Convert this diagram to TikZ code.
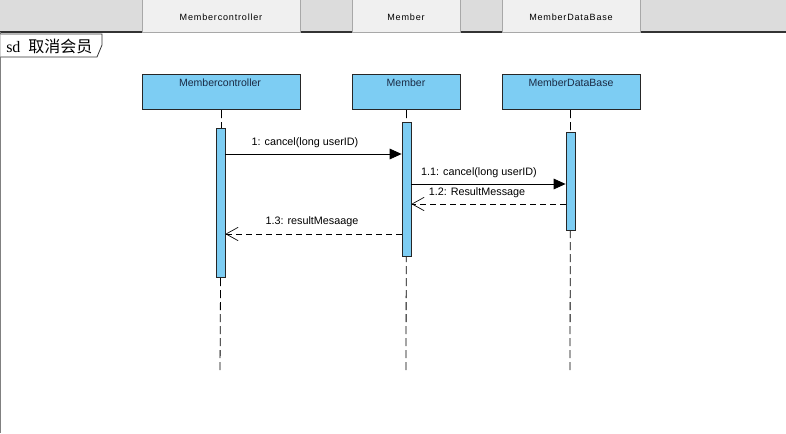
\documentclass[tikz,border=0pt]{standalone}
\usepackage{fontspec}
\setmainfont{Liberation Sans}
\newfontfamily\cjkfont{Noto Sans CJK SC}
\newfontfamily\serfont{Liberation Serif}
\usetikzlibrary{arrows.meta}
\definecolor{bandgray}{HTML}{DCDCDC}
\definecolor{tabgray}{HTML}{F0F0F0}
\definecolor{tabedge}{HTML}{A8A8A8}
\definecolor{lifefill}{HTML}{7DCDF3}
\definecolor{labelnavy}{HTML}{1A2A44}
\newcommand{\tabsp}{\kern0.6pt}
\tikzset{
  px/.style={x=0.75pt,y=-0.75pt},
  tabbox/.style={draw=tabedge,fill=tabgray,line width=0.75pt},
  tablabel/.style={font=\fontsize{6.8}{8}\selectfont,text=black},
  headbox/.style={draw=black!85,fill=lifefill,line width=0.75pt},
  headlabel/.style={font=\fontsize{7.9}{9}\selectfont,text=labelnavy},
  actbox/.style={draw=black!85,fill=lifefill,line width=0.6pt},
  lifeline/.style={draw=black,line width=0.6pt,dash pattern=on 6pt off 3pt},
  callmsg/.style={draw=black,line width=0.6pt,-{Triangle[length=9pt,width=8pt]}},
  retmsg/.style={draw=black,line width=0.6pt,dash pattern=on 4.5pt off 3pt,-{Straight Barb[length=9pt,width=10pt,line width=0.5pt]}},
  msglabel/.style={font=\fontsize{8.1}{9}\selectfont,text=black,inner sep=0pt}
}
\begin{document}
\begin{tikzpicture}[px]
\useasboundingbox (0,0) rectangle (786,433);
\fill[white] (0,0) rectangle (786,433);
% header band
\fill[bandgray] (0,0) rectangle (786,32);
\draw[black!80,line width=0.8pt] (0,32) -- (786,32);
\draw[tabbox] (142,-1) rectangle (300,32);
\draw[tabbox] (352,-1) rectangle (460,32);
\draw[tabbox] (502,-1) rectangle (640,32);
\node[tablabel] (t1) at (221,17) {M\tabsp e\tabsp m\tabsp b\tabsp e\tabsp r\tabsp c\tabsp o\tabsp n\tabsp t\tabsp r\tabsp o\tabsp l\tabsp l\tabsp e\tabsp r};
\node[tablabel] (t2) at (406,17) {M\tabsp e\tabsp m\tabsp b\tabsp e\tabsp r};
\node[tablabel] (t3) at (571,17) {M\tabsp e\tabsp m\tabsp b\tabsp e\tabsp r\tabsp D\tabsp a\tabsp t\tabsp a\tabsp B\tabsp a\tabsp s\tabsp e};
% left border
\draw[gray,line width=1pt] (0.5,32) -- (0.5,433);
% sd frame label
\draw[black!80,line width=0.6pt,fill=white] (0.5,34) -- (102,34) -- (102,45) -- (97,57) -- (0.5,57);
\node[anchor=west,inner sep=0pt] (sd) at (6,46) {\fontsize{12}{14}\selectfont\serfont sd\ \ \cjkfont 取消会员};
% lifeline heads
\node[headbox,minimum width=158*0.75pt,minimum height=35*0.75pt,anchor=north west] (hc) at (142,74) {};
\node[headbox,minimum width=108*0.75pt,minimum height=35*0.75pt,anchor=north west] (hm) at (352,74) {};
\node[headbox,minimum width=138*0.75pt,minimum height=35*0.75pt,anchor=north west] (hd) at (502,74) {};
\node[headlabel] (lc) at (220,83) {Membercontroller};
\node[headlabel] (lm) at (406,83) {Member};
\node[headlabel] (ld) at (571,83) {MemberDataBase};
% lifeline ends
\coordinate (ec) at (220,373);
\coordinate (em) at (406,373);
\coordinate (ed) at (570,373);
\draw[lifeline] (hc.south) -- (ec);
\draw[lifeline] (hm.south) -- (em);
\draw[lifeline] (hd.south) ++(-1,0) coordinate (hdl) (hdl) -- (ed);
% activations
\node[actbox,minimum width=9*0.75pt,minimum height=149*0.75pt,inner sep=0pt,anchor=north] (ac) at (220.5,128) {};
\node[actbox,minimum width=9*0.75pt,minimum height=134*0.75pt,inner sep=0pt,anchor=north] (am) at (406.5,122) {};
\node[actbox,minimum width=9*0.75pt,minimum height=98*0.75pt,inner sep=0pt,anchor=north] (ad) at (570.5,132) {};
% messages
\draw[callmsg] (ac.east |- 0,154) -- (am.west |- 0,154);
\node[msglabel] (m1) at (305,143) {1: cancel(long userID)};
\draw[callmsg] (am.east |- 0,184) -- (ad.west |- 0,184);
\node[msglabel] (m2) at (479,173) {1.1: cancel(long userID)};
\draw[retmsg] (ad.west |- 0,204) -- (am.east |- 0,204);
\node[msglabel] (m3) at (477,193) {1.2: ResultMessage};
\draw[retmsg] (am.west |- 0,234) -- (ac.east |- 0,234);
\node[msglabel] (m4) at (312,222) {1.3: resultMesaage};
\end{tikzpicture}
\end{document}
